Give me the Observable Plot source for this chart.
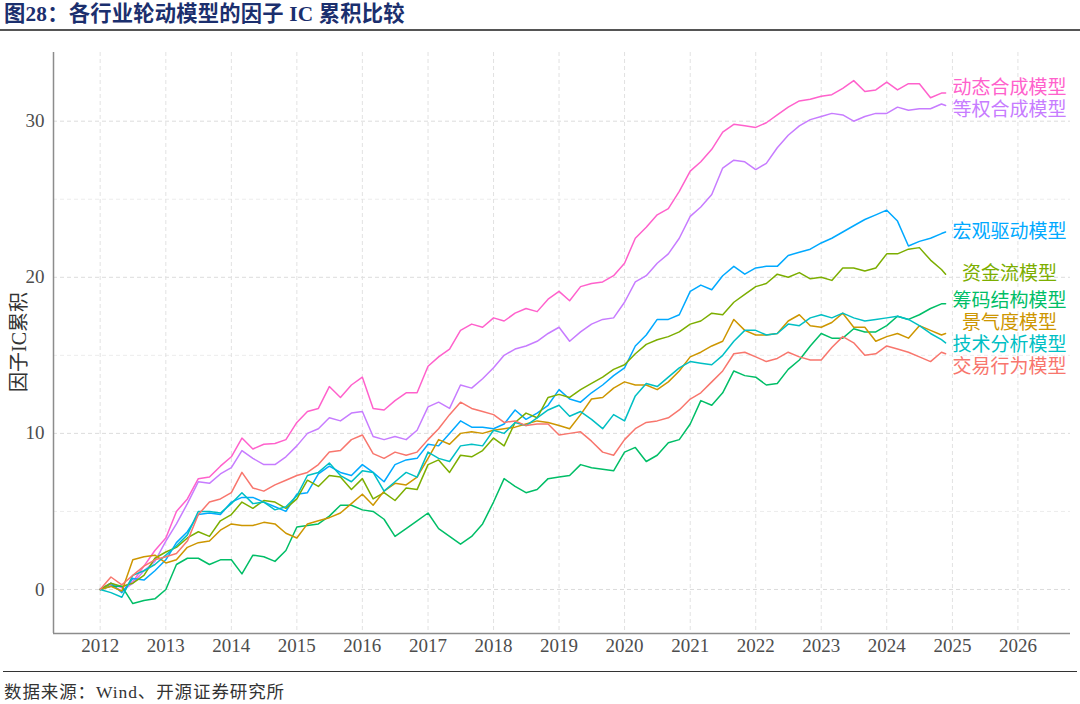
<!DOCTYPE html>
<html><head><meta charset="utf-8">
<script src="https://cdn.jsdelivr.net/npm/d3@7"></script>
<script src="https://cdn.jsdelivr.net/npm/@observablehq/plot@0.6"></script>
<style>
html,body{margin:0;padding:0;background:#fff;}
body{width:1080px;height:704px;position:relative;overflow:hidden;font-family:"Liberation Serif","Noto Sans CJK SC",serif;}
#title{position:absolute;left:0;top:0;width:1080px;height:29px;border-bottom:2px solid #555;}
#title span{position:absolute;left:4px;top:1px;font-size:21.3px;font-weight:bold;color:#1B2F6E;line-height:26px;white-space:nowrap;letter-spacing:0.2px;}
#chart{position:absolute;left:0;top:33px;}
#ylab{position:absolute;left:17px;top:342px;transform:translate(-50%,-50%) rotate(-90deg);font-size:20px;color:#333;white-space:nowrap;}
#caption{position:absolute;left:3px;top:671px;width:1074px;border-top:1.5px solid #333;}
#caption span{position:absolute;left:1px;top:6px;font-size:17.5px;color:#333;white-space:nowrap;letter-spacing:0.9px;}
</style></head>
<body>
<div id="title"><span>图28：各行业轮动模型的因子 IC 累积比较</span></div>
<div id="chart"></div>
<div id="ylab">因子IC累积</div>
<div id="caption"><span>数据来源：Wind、开源证券研究所</span></div>
<script>
// ---- data (one value every two months from Jan 2012) ----
const names = ["动态合成模型","等权合成模型","宏观驱动模型","资金流模型","筹码结构模型","景气度模型","技术分析模型","交易行为模型"];
const colors = ["#FF61CC","#C77CFF","#00A9FF","#7CAE00","#00BE67","#CD9600","#00BFC4","#F8766D"];
const yearTicks = [2012,2013,2014,2015,2016,2017,2018,2019,2020,2021,2022,2023,2024,2025,2026];
const yTicks = [0,10,20,30];
const yMinor = [5,15,25];

const dynamicModel = [0,0.4,0.1,0.5,1.5,2.5,3.3,5.0,5.8,7.1, 7.2,7.9,8.5,9.7,9.0,9.3,9.35,9.6,10.7,11.4, 11.6,13.0,12.3,13.1,13.6,11.6,11.5,12.1,12.6,12.6, 14.3,14.9,15.4,16.6,17.0,16.8,17.4,17.2,17.7,18.0, 17.8,18.6,19.1,18.5,19.4,19.6,19.7,20.1,20.9,22.5, 23.2,24.0,24.4,25.5,26.8,27.4,28.2,29.3,29.8,29.7, 29.6,29.9,30.4,30.9,31.3,31.4,31.6,31.7,32.1,32.6, 31.9,32.0,32.5,32.0,32.4,32.4,31.5,31.8,31.8];
const equalModel = [0,0.3,-0.1,0.4,1.2,1.8,3.1,4.2,5.5,6.9, 6.8,7.4,7.8,8.9,8.4,8.0,8.0,8.5,9.2,10.0, 10.3,11.0,10.8,11.3,11.4,9.8,9.6,9.8,9.6,10.2, 11.7,12.0,11.6,13.1,12.9,13.5,14.2,15.0,15.4,15.6, 15.9,16.4,16.8,15.9,16.5,17.0,17.3,17.4,18.4,19.7, 20.1,20.9,21.5,22.5,23.9,24.5,25.3,27.0,27.5,27.4, 26.9,27.3,28.3,29.1,29.7,30.1,30.3,30.5,30.4,30.0, 30.3,30.5,30.5,30.9,30.7,30.8,30.8,31.1,31.0];
const macroModel = [0,0.4,-0.2,0.7,0.6,1.2,1.9,3.0,3.7,4.8, 4.9,4.8,5.6,5.9,5.9,5.6,5.3,5.0,6.1,6.2, 7.4,7.9,7.5,7.3,8.0,7.5,6.9,8.0,8.3,8.4, 9.3,9.2,10.0,10.8,10.4,10.4,10.3,10.6,11.5,10.9, 11.3,11.8,12.8,12.2,12.0,12.6,13.1,13.7,14.2,15.6, 16.3,17.3,17.3,17.6,19.1,19.5,19.2,20.1,20.7,20.2, 20.6,20.7,20.7,21.4,21.6,21.8,22.2,22.5,22.9,23.3, 23.7,24.0,24.3,23.6,22.0,22.3,22.5,22.8,22.9];
const fundFlowModel = [0,0.4,0.2,0.4,0.9,2.0,2.4,2.7,3.3,3.7, 3.4,4.4,4.8,5.6,5.2,5.7,5.6,5.2,5.8,7.0, 6.6,7.3,7.2,6.4,7.1,5.8,6.2,5.7,6.5,6.4, 8.0,8.3,7.5,8.6,8.5,8.9,9.7,9.2,10.7,11.3, 11.0,12.3,12.5,12.3,12.8,13.2,13.6,14.1,14.4,15.1, 15.7,16.0,16.2,16.5,17.0,17.2,17.7,17.6,18.4,18.9, 19.4,19.6,20.2,20.0,20.3,19.9,20.0,19.8,20.6,20.6, 20.4,20.6,21.5,21.5,21.8,21.9,21.1,20.5,20.2];
const chipModel = [0,0.2,0.2,-0.9,-0.7,-0.6,0.0,1.6,2.0,2.0, 1.6,1.9,1.9,1.0,2.2,2.1,1.8,2.5,4.0,4.1, 4.2,4.7,5.4,5.4,5.1,5.0,4.5,3.4,3.9,4.4, 4.9,3.9,3.4,2.9,3.4,4.2,5.6,7.1,6.6,6.2, 6.4,7.1,7.2,7.3,8.0,7.8,7.7,7.6,8.8,9.1, 8.2,8.6,9.4,9.6,10.6,12.1,11.8,12.6,14.0,13.7, 13.6,13.1,13.2,14.1,14.7,15.6,16.4,16.1,16.1,16.7, 16.5,16.5,16.9,17.5,17.3,17.6,18.0,18.3,18.3];
const prosperityModel = [0,0.2,-0.1,1.9,2.1,2.2,1.7,1.9,2.7,3.0, 3.1,3.8,4.2,4.1,4.1,4.3,4.2,3.6,3.3,4.2, 4.4,4.6,4.9,5.5,6.1,5.4,6.3,6.8,6.7,7.2, 8.4,9.6,9.3,10.0,10.1,10.0,10.2,10.3,10.4,10.6, 10.8,10.7,10.5,10.3,11.2,12.2,12.3,12.9,13.3,13.1, 13.1,12.8,13.3,14.0,14.9,15.2,15.6,15.9,17.3,16.6, 16.3,16.3,16.4,17.2,17.6,16.9,16.8,17.1,17.7,16.8, 16.8,15.9,16.2,16.4,16.1,16.9,16.6,16.3,16.4];
const technicalModel = [0,-0.2,-0.5,0.9,1.2,1.6,2.2,2.8,3.5,5.0, 5.0,4.9,5.5,6.2,5.5,5.6,5.1,5.3,6.0,7.3, 7.5,8.1,7.3,6.9,7.6,7.5,6.3,6.9,7.5,7.2, 8.8,8.4,8.2,9.2,9.3,9.2,10.2,10.0,10.7,10.5, 11.0,11.5,11.8,11.1,11.4,10.9,10.3,11.2,10.8,12.4, 13.2,13.0,13.6,14.2,14.6,14.5,14.4,15.0,15.9,16.6, 16.6,16.3,16.4,17.0,16.9,17.4,17.6,17.4,17.7,17.4, 17.2,17.3,17.4,17.5,17.3,16.9,16.4,16.0,15.8];
const tradingModel = [0,0.8,0.3,0.9,1.5,1.9,2.1,2.3,3.1,4.8, 5.6,5.8,6.2,7.5,6.5,6.3,6.7,7.0,7.3,7.5, 8.0,8.8,8.9,9.6,9.9,8.7,8.4,8.8,8.6,8.8, 9.6,10.3,11.2,12.0,11.6,11.4,11.2,10.7,10.8,10.5, 10.6,10.6,9.9,10.0,10.1,9.5,8.8,8.6,9.6,10.3, 10.7,10.8,11.0,11.5,12.2,12.6,13.3,14.0,15.1,15.2, 14.9,14.6,14.8,15.2,14.9,14.7,14.7,15.5,16.2,15.8, 15.0,15.1,15.6,15.4,15.2,14.9,14.6,15.2,15.1];
const series = [dynamicModel, equalModel, macroModel, fundFlowModel, chipModel, prosperityModel, technicalModel, tradingModel];

// ---- dates: every two months from 2012-01, plus the final observation ----
const dates = d3.utcMonth.every(2).range(new Date(Date.UTC(2012,0,1)), new Date(Date.UTC(2024,11,1)));
dates.push(new Date(Date.UTC(2024,10,24)));

const rows = names.flatMap((n, i) => series[i].map((v, j) => ({date: dates[j], value: v, name: n})));

// ---- layout ----
const W = 1080, H = 627, mt = 19, mb = 27, ml = 53, mr = 10;
const xDomain = [new Date(Date.UTC(2011,3,16)), new Date(Date.UTC(2026,9,21))];
const yDomain = [-2.82, 34.4];
const yearDates = yearTicks.map(y => new Date(Date.UTC(y,0,1)));

// ---- end labels with simple repulsion ----
const pxPerUnit = (H - mt - mb) / (yDomain[1] - yDomain[0]);
const gap = 22 / pxPerUnit;
const labels = names.map((n, i) => ({name: n, date: dates[dates.length-1], v: series[i][series[i].length-1]}))
  .sort((a, b) => b.v - a.v);
let groups = labels.map(d => ({members: [d]}));
function place(g){ const m = d3.mean(g.members, d => d.v); const k = g.members.length; g.members.forEach((d, i) => d.ly = m + ((k-1)/2 - i) * gap); }
groups.forEach(place);
let changed = true;
while (changed) {
  changed = false;
  for (let i = 0; i < groups.length - 1; i++) {
    const a = groups[i], b = groups[i+1];
    if (a.members[a.members.length-1].ly - b.members[0].ly < gap - 1e-9) {
      a.members = a.members.concat(b.members); groups.splice(i+1, 1); place(a); changed = true; break;
    }
  }
}

const plot = Plot.plot({
  width: W, height: H, marginTop: mt, marginBottom: mb, marginLeft: ml, marginRight: mr,
  style: {fontFamily: '"Liberation Serif", serif', fontSize: "19px", color: "#4d4d4d", background: "#fff"},
  x: {type: "utc", domain: xDomain},
  y: {domain: yDomain},
  color: {domain: names, range: colors},
  marks: [
    Plot.ruleY(yMinor, {stroke: "#ececec", strokeDasharray: "4,3"}),
    Plot.ruleY(yTicks, {stroke: "#dcdcdc", strokeDasharray: "4,3"}),
    Plot.ruleX(yearDates, {stroke: "#e2e2e2", strokeDasharray: "4,3"}),
    Plot.axisX({ticks: yearDates, tickFormat: d3.utcFormat("%Y"), tickSize: 0, tickPadding: 5, label: null}),
    Plot.axisY({ticks: yTicks, tickSize: 0, tickPadding: 9, label: null}),
    Plot.ruleX([xDomain[0]], {stroke: "#8c8c8c", strokeWidth: 1.5}),
    Plot.ruleY([yDomain[0]], {stroke: "#8c8c8c", strokeWidth: 1.5}),
    Plot.lineY(rows, {x: "date", y: "value", z: "name", stroke: "name", strokeWidth: 1.5}),
    Plot.text(labels, {x: "date", y: "ly", text: "name", fill: "name", dx: 64, textAnchor: "middle",
      fontSize: 19, fontFamily: '"Liberation Serif", "Noto Sans CJK SC", serif'})
  ]
});
document.getElementById("chart").appendChild(plot);
</script>
</body></html>
